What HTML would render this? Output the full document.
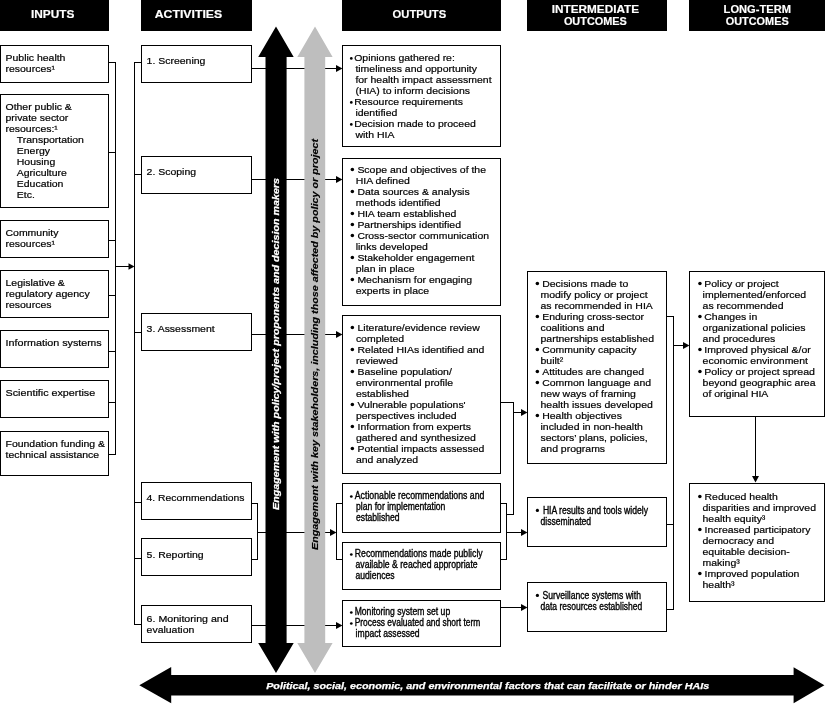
<!DOCTYPE html>
<html><head><meta charset="utf-8"><title>HIA logic model</title>
<style>
html,body{margin:0;padding:0;background:#fff;width:825px;height:704px;overflow:hidden}
svg{display:block;will-change:transform}
text{font-family:"Liberation Sans",sans-serif}
.h{font-weight:bold;fill:#fff;stroke:#fff;stroke-width:0.15px}
.t{fill:#000;stroke:#000;stroke-width:0.2px}
.c{fill:#000;stroke:#000;stroke-width:0.35px}
.bi{font-weight:bold;font-style:italic}
</style></head><body>
<svg width="825" height="704" viewBox="0 0 825 704">
<g fill="#000" shape-rendering="crispEdges">
<rect x="0" y="0" width="109" height="31"/>
<rect x="141" y="0" width="111" height="31"/>
<rect x="342" y="0" width="159" height="31"/>
<rect x="527" y="0" width="140" height="31"/>
<rect x="689" y="0" width="136" height="31"/>
<rect x="0" y="45" width="109" height="1"/>
<rect x="0" y="82" width="109" height="1"/>
<rect x="0" y="45" width="1" height="38"/>
<rect x="108" y="45" width="1" height="38"/>
<rect x="0" y="94" width="109" height="1"/>
<rect x="0" y="207" width="109" height="1"/>
<rect x="0" y="94" width="1" height="114"/>
<rect x="108" y="94" width="1" height="114"/>
<rect x="0" y="220" width="109" height="1"/>
<rect x="0" y="257" width="109" height="1"/>
<rect x="0" y="220" width="1" height="38"/>
<rect x="108" y="220" width="1" height="38"/>
<rect x="0" y="270" width="109" height="1"/>
<rect x="0" y="317" width="109" height="1"/>
<rect x="0" y="270" width="1" height="48"/>
<rect x="108" y="270" width="1" height="48"/>
<rect x="0" y="330" width="109" height="1"/>
<rect x="0" y="367" width="109" height="1"/>
<rect x="0" y="330" width="1" height="38"/>
<rect x="108" y="330" width="1" height="38"/>
<rect x="0" y="380" width="109" height="1"/>
<rect x="0" y="417" width="109" height="1"/>
<rect x="0" y="380" width="1" height="38"/>
<rect x="108" y="380" width="1" height="38"/>
<rect x="0" y="431" width="109" height="1"/>
<rect x="0" y="475" width="109" height="1"/>
<rect x="0" y="431" width="1" height="45"/>
<rect x="108" y="431" width="1" height="45"/>
<rect x="108" y="62" width="8" height="1"/>
<rect x="108" y="152" width="8" height="1"/>
<rect x="108" y="240" width="8" height="1"/>
<rect x="108" y="295" width="8" height="1"/>
<rect x="108" y="351" width="8" height="1"/>
<rect x="108" y="402" width="8" height="1"/>
<rect x="108" y="454" width="8" height="1"/>
<rect x="115" y="62" width="1" height="393"/>
<rect x="115" y="266" width="14.5" height="1"/>
<rect x="141" y="45" width="111" height="1"/>
<rect x="141" y="82" width="111" height="1"/>
<rect x="141" y="45" width="1" height="38"/>
<rect x="251" y="45" width="1" height="38"/>
<rect x="141" y="156" width="111" height="1"/>
<rect x="141" y="193" width="111" height="1"/>
<rect x="141" y="156" width="1" height="38"/>
<rect x="251" y="156" width="1" height="38"/>
<rect x="141" y="313" width="111" height="1"/>
<rect x="141" y="350" width="111" height="1"/>
<rect x="141" y="313" width="1" height="38"/>
<rect x="251" y="313" width="1" height="38"/>
<rect x="141" y="482" width="111" height="1"/>
<rect x="141" y="519" width="111" height="1"/>
<rect x="141" y="482" width="1" height="38"/>
<rect x="251" y="482" width="1" height="38"/>
<rect x="141" y="538" width="111" height="1"/>
<rect x="141" y="575" width="111" height="1"/>
<rect x="141" y="538" width="1" height="38"/>
<rect x="251" y="538" width="1" height="38"/>
<rect x="141" y="605" width="111" height="1"/>
<rect x="141" y="642" width="111" height="1"/>
<rect x="141" y="605" width="1" height="38"/>
<rect x="251" y="605" width="1" height="38"/>
<rect x="134" y="62" width="1" height="563"/>
<rect x="134" y="62" width="8" height="1"/>
<rect x="134" y="174" width="8" height="1"/>
<rect x="134" y="332" width="8" height="1"/>
<rect x="134" y="502" width="8" height="1"/>
<rect x="134" y="558" width="8" height="1"/>
<rect x="134" y="624" width="8" height="1"/>
<rect x="251" y="68" width="86" height="1"/>
<rect x="251" y="179" width="86" height="1"/>
<rect x="251" y="334" width="86" height="1"/>
<rect x="251" y="625" width="86" height="1"/>
<rect x="251" y="503" width="7" height="1"/>
<rect x="251" y="559" width="7" height="1"/>
<rect x="257" y="503" width="1" height="57"/>
<rect x="257" y="532" width="74" height="1"/>
<rect x="336" y="503" width="1" height="57"/>
<rect x="336" y="503" width="7" height="1"/>
<rect x="336" y="559" width="7" height="1"/>
<rect x="342" y="45" width="159" height="1"/>
<rect x="342" y="146" width="159" height="1"/>
<rect x="342" y="45" width="1" height="102"/>
<rect x="500" y="45" width="1" height="102"/>
<rect x="342" y="158" width="159" height="1"/>
<rect x="342" y="305" width="159" height="1"/>
<rect x="342" y="158" width="1" height="148"/>
<rect x="500" y="158" width="1" height="148"/>
<rect x="342" y="315" width="159" height="1"/>
<rect x="342" y="473" width="159" height="1"/>
<rect x="342" y="315" width="1" height="159"/>
<rect x="500" y="315" width="1" height="159"/>
<rect x="342" y="483" width="159" height="1"/>
<rect x="342" y="532" width="159" height="1"/>
<rect x="342" y="483" width="1" height="50"/>
<rect x="500" y="483" width="1" height="50"/>
<rect x="342" y="542" width="159" height="1"/>
<rect x="342" y="589" width="159" height="1"/>
<rect x="342" y="542" width="1" height="48"/>
<rect x="500" y="542" width="1" height="48"/>
<rect x="342" y="600" width="159" height="1"/>
<rect x="342" y="646" width="159" height="1"/>
<rect x="342" y="600" width="1" height="47"/>
<rect x="500" y="600" width="1" height="47"/>
<rect x="500" y="402" width="14" height="1"/>
<rect x="513" y="402" width="1" height="113"/>
<rect x="506" y="514" width="8" height="1"/>
<rect x="513" y="412" width="9" height="1"/>
<rect x="500" y="503" width="7" height="1"/>
<rect x="500" y="559" width="7" height="1"/>
<rect x="506" y="503" width="1" height="57"/>
<rect x="506" y="532" width="16" height="1"/>
<rect x="500" y="607" width="22" height="1"/>
<rect x="527" y="271" width="140" height="1"/>
<rect x="527" y="463" width="140" height="1"/>
<rect x="527" y="271" width="1" height="193"/>
<rect x="666" y="271" width="1" height="193"/>
<rect x="527" y="497" width="140" height="1"/>
<rect x="527" y="546" width="140" height="1"/>
<rect x="527" y="497" width="1" height="50"/>
<rect x="666" y="497" width="1" height="50"/>
<rect x="527" y="582" width="140" height="1"/>
<rect x="527" y="631" width="140" height="1"/>
<rect x="527" y="582" width="1" height="50"/>
<rect x="666" y="582" width="1" height="50"/>
<rect x="666" y="316" width="8" height="1"/>
<rect x="666" y="524" width="8" height="1"/>
<rect x="666" y="609" width="8" height="1"/>
<rect x="673" y="316" width="1" height="294"/>
<rect x="673" y="345" width="11" height="1"/>
<rect x="689" y="271" width="136" height="1"/>
<rect x="689" y="416" width="136" height="1"/>
<rect x="689" y="271" width="1" height="146"/>
<rect x="824" y="271" width="1" height="146"/>
<rect x="689" y="483" width="136" height="1"/>
<rect x="689" y="601" width="136" height="1"/>
<rect x="689" y="483" width="1" height="119"/>
<rect x="824" y="483" width="1" height="119"/>
<rect x="755" y="416" width="1" height="61"/>
</g>
<g fill="#000">
<text class="h" x="30.90" y="18" font-size="10.0" textLength="43.50" lengthAdjust="spacingAndGlyphs" transform="translate(0,18) scale(1,1.0) translate(0,-18)">INPUTS</text>
<text class="h" x="154.70" y="18" font-size="10.0" textLength="67.50" lengthAdjust="spacingAndGlyphs" transform="translate(0,18) scale(1,1.0) translate(0,-18)">ACTIVITIES</text>
<text class="h" x="392.60" y="18" font-size="10.0" textLength="53.60" lengthAdjust="spacingAndGlyphs" transform="translate(0,18) scale(1,1.0) translate(0,-18)">OUTPUTS</text>
<text class="h" x="551.80" y="13.1" font-size="10.0" textLength="87.30" lengthAdjust="spacingAndGlyphs" transform="translate(0,13.1) scale(1,1.0) translate(0,-13.1)">INTERMEDIATE</text>
<text class="h" x="563.90" y="24.7" font-size="10.0" textLength="63.00" lengthAdjust="spacingAndGlyphs" transform="translate(0,24.7) scale(1,1.0) translate(0,-24.7)">OUTCOMES</text>
<text class="h" x="723.60" y="13.1" font-size="10.0" textLength="67.40" lengthAdjust="spacingAndGlyphs" transform="translate(0,13.1) scale(1,1.0) translate(0,-13.1)">LONG-TERM</text>
<text class="h" x="725.70" y="24.7" font-size="10.0" textLength="63.00" lengthAdjust="spacingAndGlyphs" transform="translate(0,24.7) scale(1,1.0) translate(0,-24.7)">OUTCOMES</text>
<polygon points="134.5,266.5 128.5,263.2 128.5,269.8"/>
<polygon points="342.5,68.5 336,65.0 336,72.0"/>
<polygon points="342.5,179.5 336,176.0 336,183.0"/>
<polygon points="342.5,334.5 336,331.0 336,338.0"/>
<polygon points="342.5,625.5 336,622.0 336,629.0"/>
<polygon points="336.5,532.5 330,529.0 330,536.0"/>
<polygon points="527.5,412.5 521,409.0 521,416.0"/>
<polygon points="527.5,532.5 521,529.0 521,536.0"/>
<polygon points="527.5,607.5 521,604.0 521,611.0"/>
<polygon points="689.5,345.5 683,342.0 683,349.0"/>
<polygon points="755.5,482.5 752.0,476 759.0,476"/>
</g>
<polygon fill="#000" points="276,26.4 293.7,57.1 286.6,57.1 286.6,642.9 293.7,642.9 276,673.1 258.2,642.9 265.5,642.9 265.5,57.1 258.2,57.1"/>
<polygon fill="#bebebe" points="315,26.4 332.6,57.1 325.2,57.1 325.2,642.9 332.6,642.9 315,673.1 297.3,642.9 304.4,642.9 304.4,57.1 297.3,57.1"/>
<polygon fill="#000" points="139.3,685.2 171.2,667 171.2,675 793.6,675 793.6,667.2 824.4,685.2 793.6,703.3 793.6,695.6 171.2,695.6 171.2,703.2"/>
<g>
<text class="t" x="5.50" y="61" font-size="9.5" textLength="59.95" lengthAdjust="spacingAndGlyphs">Public health</text>
<text class="t" x="5.50" y="72" font-size="9.5" textLength="49.45" lengthAdjust="spacingAndGlyphs">resources¹</text>
<text class="t" x="5.50" y="110" font-size="9.5" textLength="66.34" lengthAdjust="spacingAndGlyphs">Other public &amp;</text>
<text class="t" x="5.50" y="121" font-size="9.5" textLength="62.84" lengthAdjust="spacingAndGlyphs">private sector</text>
<text class="t" x="5.50" y="132" font-size="9.5" textLength="52.36" lengthAdjust="spacingAndGlyphs">resources:¹</text>
<text class="t" x="16.80" y="143" font-size="9.5" textLength="67.12" lengthAdjust="spacingAndGlyphs">Transportation</text>
<text class="t" x="16.80" y="154" font-size="9.5" textLength="33.17" lengthAdjust="spacingAndGlyphs">Energy</text>
<text class="t" x="16.80" y="165" font-size="9.5" textLength="38.41" lengthAdjust="spacingAndGlyphs">Housing</text>
<text class="t" x="16.80" y="176" font-size="9.5" textLength="50.04" lengthAdjust="spacingAndGlyphs">Agriculture</text>
<text class="t" x="16.80" y="187" font-size="9.5" textLength="46.56" lengthAdjust="spacingAndGlyphs">Education</text>
<text class="t" x="16.80" y="198" font-size="9.5" textLength="18.03" lengthAdjust="spacingAndGlyphs">Etc.</text>
<text class="t" x="5.50" y="236" font-size="9.5" textLength="52.94" lengthAdjust="spacingAndGlyphs">Community</text>
<text class="t" x="5.50" y="247" font-size="9.5" textLength="49.45" lengthAdjust="spacingAndGlyphs">resources¹</text>
<text class="t" x="5.50" y="286" font-size="9.5" textLength="59.36" lengthAdjust="spacingAndGlyphs">Legislative &amp;</text>
<text class="t" x="5.50" y="297" font-size="9.5" textLength="84.22" lengthAdjust="spacingAndGlyphs">regulatory agency</text>
<text class="t" x="5.50" y="308" font-size="9.5" textLength="45.97" lengthAdjust="spacingAndGlyphs">resources</text>
<text class="t" x="5.50" y="346" font-size="9.5" textLength="96.11" lengthAdjust="spacingAndGlyphs">Information systems</text>
<text class="t" x="5.50" y="396" font-size="9.5" textLength="89.64" lengthAdjust="spacingAndGlyphs">Scientific expertise</text>
<text class="t" x="5.50" y="447" font-size="9.5" textLength="99.53" lengthAdjust="spacingAndGlyphs">Foundation funding &amp;</text>
<text class="t" x="5.50" y="458" font-size="9.5" textLength="93.69" lengthAdjust="spacingAndGlyphs">technical assistance</text>
<text class="t" x="146.60" y="64" font-size="9.5" textLength="58.78" lengthAdjust="spacingAndGlyphs">1. Screening</text>
<text class="t" x="146.60" y="175" font-size="9.5" textLength="49.47" lengthAdjust="spacingAndGlyphs">2. Scoping</text>
<text class="t" x="146.60" y="332" font-size="9.5" textLength="68.08" lengthAdjust="spacingAndGlyphs">3. Assessment</text>
<text class="t" x="146.60" y="501" font-size="9.5" textLength="97.94" lengthAdjust="spacingAndGlyphs">4. Recommendations</text>
<text class="t" x="146.60" y="558" font-size="9.5" textLength="57.03" lengthAdjust="spacingAndGlyphs">5. Reporting</text>
<text class="t" x="146.60" y="622" font-size="9.5" textLength="82.03" lengthAdjust="spacingAndGlyphs">6. Monitoring and</text>
<text class="t" x="146.60" y="633" font-size="9.5" textLength="47.73" lengthAdjust="spacingAndGlyphs">evaluation</text>
<circle cx="351.3" cy="58.4" r="1.35"/>
<text class="t" x="354.20" y="61" font-size="9.5" textLength="100.68" lengthAdjust="spacingAndGlyphs">Opinions gathered re:</text>
<text class="t" x="355.40" y="72" font-size="9.5" textLength="121.63" lengthAdjust="spacingAndGlyphs">timeliness and opportunity</text>
<text class="t" x="355.40" y="83" font-size="9.5" textLength="136.16" lengthAdjust="spacingAndGlyphs">for health impact assessment</text>
<text class="t" x="355.40" y="94" font-size="9.5" textLength="114.62" lengthAdjust="spacingAndGlyphs">(HIA) to inform decisions</text>
<circle cx="351.3" cy="102.4" r="1.35"/>
<text class="t" x="354.20" y="105" font-size="9.5" textLength="108.81" lengthAdjust="spacingAndGlyphs">Resource requirements</text>
<text class="t" x="355.40" y="116" font-size="9.5" textLength="41.91" lengthAdjust="spacingAndGlyphs">identified</text>
<circle cx="351.3" cy="124.4" r="1.35"/>
<text class="t" x="354.20" y="127" font-size="9.5" textLength="121.63" lengthAdjust="spacingAndGlyphs">Decision made to proceed</text>
<text class="t" x="355.40" y="138" font-size="9.5" textLength="38.98" lengthAdjust="spacingAndGlyphs">with HIA</text>
<circle cx="352.35" cy="169.5" r="1.75"/>
<text class="t" x="357.40" y="173" font-size="9.5" textLength="128.63" lengthAdjust="spacingAndGlyphs">Scope and objectives of the</text>
<text class="t" x="355.70" y="184" font-size="9.5" textLength="54.13" lengthAdjust="spacingAndGlyphs">HIA defined</text>
<circle cx="352.35" cy="191.5" r="1.75"/>
<text class="t" x="357.40" y="195" font-size="9.5" textLength="112.30" lengthAdjust="spacingAndGlyphs">Data sources &amp; analysis</text>
<text class="t" x="355.70" y="206" font-size="9.5" textLength="84.97" lengthAdjust="spacingAndGlyphs">methods identified</text>
<circle cx="352.35" cy="213.5" r="1.75"/>
<text class="t" x="357.40" y="217" font-size="9.5" textLength="98.93" lengthAdjust="spacingAndGlyphs">HIA team established</text>
<circle cx="352.35" cy="224.5" r="1.75"/>
<text class="t" x="357.40" y="228" font-size="9.5" textLength="103.59" lengthAdjust="spacingAndGlyphs">Partnerships identified</text>
<circle cx="352.35" cy="235.5" r="1.75"/>
<text class="t" x="357.40" y="239" font-size="9.5" textLength="131.59" lengthAdjust="spacingAndGlyphs">Cross-sector communication</text>
<text class="t" x="355.70" y="250" font-size="9.5" textLength="72.17" lengthAdjust="spacingAndGlyphs">links developed</text>
<circle cx="352.35" cy="257.5" r="1.75"/>
<text class="t" x="357.40" y="261" font-size="9.5" textLength="116.99" lengthAdjust="spacingAndGlyphs">Stakeholder engagement</text>
<text class="t" x="355.70" y="272" font-size="9.5" textLength="58.79" lengthAdjust="spacingAndGlyphs">plan in place</text>
<circle cx="352.35" cy="279.5" r="1.75"/>
<text class="t" x="357.40" y="283" font-size="9.5" textLength="114.65" lengthAdjust="spacingAndGlyphs">Mechanism for engaging</text>
<text class="t" x="355.70" y="294" font-size="9.5" textLength="73.33" lengthAdjust="spacingAndGlyphs">experts in place</text>
<circle cx="352.35" cy="327.5" r="1.75"/>
<text class="t" x="357.50" y="331" font-size="9.5" textLength="122.21" lengthAdjust="spacingAndGlyphs">Literature/evidence review</text>
<text class="t" x="355.90" y="342" font-size="9.5" textLength="48.30" lengthAdjust="spacingAndGlyphs">completed</text>
<circle cx="352.35" cy="349.5" r="1.75"/>
<text class="t" x="357.50" y="353" font-size="9.5" textLength="126.87" lengthAdjust="spacingAndGlyphs">Related HIAs identified and</text>
<text class="t" x="355.90" y="364" font-size="9.5" textLength="41.90" lengthAdjust="spacingAndGlyphs">reviewed</text>
<circle cx="352.35" cy="371.5" r="1.75"/>
<text class="t" x="357.50" y="375" font-size="9.5" textLength="94.30" lengthAdjust="spacingAndGlyphs">Baseline population/</text>
<text class="t" x="355.90" y="386" font-size="9.5" textLength="97.18" lengthAdjust="spacingAndGlyphs">environmental profile</text>
<text class="t" x="355.90" y="397" font-size="9.5" textLength="52.96" lengthAdjust="spacingAndGlyphs">established</text>
<circle cx="352.35" cy="404.5" r="1.75"/>
<text class="t" x="357.50" y="408" font-size="9.5" textLength="108.13" lengthAdjust="spacingAndGlyphs">Vulnerable populations&#x27;</text>
<text class="t" x="355.90" y="419" font-size="9.5" textLength="100.68" lengthAdjust="spacingAndGlyphs">perspectives included</text>
<circle cx="352.35" cy="426.5" r="1.75"/>
<text class="t" x="357.50" y="430" font-size="9.5" textLength="113.46" lengthAdjust="spacingAndGlyphs">Information from experts</text>
<text class="t" x="355.90" y="441" font-size="9.5" textLength="119.90" lengthAdjust="spacingAndGlyphs">gathered and synthesized</text>
<circle cx="352.35" cy="448.5" r="1.75"/>
<text class="t" x="357.50" y="452" font-size="9.5" textLength="126.86" lengthAdjust="spacingAndGlyphs">Potential impacts assessed</text>
<text class="t" x="355.90" y="463" font-size="9.5" textLength="62.28" lengthAdjust="spacingAndGlyphs">and analyzed</text>
<circle cx="351.3" cy="496.5" r="1.35"/>
<text class="c" x="354.80" y="499" font-size="10" textLength="129.63" lengthAdjust="spacingAndGlyphs">Actionable recommendations and</text>
<text class="c" x="356.10" y="510" font-size="10" textLength="89.29" lengthAdjust="spacingAndGlyphs">plan for implementation</text>
<text class="c" x="356.10" y="521" font-size="10" textLength="43.46" lengthAdjust="spacingAndGlyphs">established</text>
<circle cx="351.3" cy="554.5" r="1.35"/>
<text class="c" x="354.80" y="557" font-size="10" textLength="127.85" lengthAdjust="spacingAndGlyphs">Recommendations made publicly</text>
<text class="c" x="355.50" y="568" font-size="10" textLength="122.11" lengthAdjust="spacingAndGlyphs">available &amp; reached appropriate</text>
<text class="c" x="355.50" y="579" font-size="10" textLength="39.16" lengthAdjust="spacingAndGlyphs">audiences</text>
<circle cx="351.3" cy="612.5" r="1.35"/>
<text class="c" x="354.70" y="615" font-size="10" textLength="95.49" lengthAdjust="spacingAndGlyphs">Monitoring system set up</text>
<circle cx="351.3" cy="623.5" r="1.35"/>
<text class="c" x="354.70" y="626" font-size="10" textLength="125.62" lengthAdjust="spacingAndGlyphs">Process evaluated and short term</text>
<text class="c" x="355.60" y="637" font-size="10" textLength="63.98" lengthAdjust="spacingAndGlyphs">impact assessed</text>
<circle cx="537.35" cy="283.5" r="1.75"/>
<text class="t" x="542.20" y="287" font-size="9.5" textLength="86.12" lengthAdjust="spacingAndGlyphs">Decisions made to</text>
<text class="t" x="540.50" y="298" font-size="9.5" textLength="107.06" lengthAdjust="spacingAndGlyphs">modify policy or project</text>
<text class="t" x="540.50" y="309" font-size="9.5" textLength="112.30" lengthAdjust="spacingAndGlyphs">as recommended in HIA</text>
<circle cx="537.35" cy="316.5" r="1.75"/>
<text class="t" x="542.20" y="320" font-size="9.5" textLength="101.83" lengthAdjust="spacingAndGlyphs">Enduring cross-sector</text>
<text class="t" x="540.50" y="331" font-size="9.5" textLength="64.02" lengthAdjust="spacingAndGlyphs">coalitions and</text>
<text class="t" x="540.50" y="342" font-size="9.5" textLength="113.49" lengthAdjust="spacingAndGlyphs">partnerships established</text>
<circle cx="537.35" cy="349.5" r="1.75"/>
<text class="t" x="542.20" y="353" font-size="9.5" textLength="94.25" lengthAdjust="spacingAndGlyphs">Community capacity</text>
<text class="t" x="540.50" y="364" font-size="9.5" textLength="22.69" lengthAdjust="spacingAndGlyphs">built²</text>
<circle cx="537.35" cy="371.5" r="1.75"/>
<text class="t" x="542.20" y="375" font-size="9.5" textLength="101.86" lengthAdjust="spacingAndGlyphs">Attitudes are changed</text>
<circle cx="537.35" cy="382.5" r="1.75"/>
<text class="t" x="542.20" y="386" font-size="9.5" textLength="108.84" lengthAdjust="spacingAndGlyphs">Common language and</text>
<text class="t" x="540.50" y="397" font-size="9.5" textLength="95.42" lengthAdjust="spacingAndGlyphs">new ways of framing</text>
<text class="t" x="540.50" y="408" font-size="9.5" textLength="112.33" lengthAdjust="spacingAndGlyphs">health issues developed</text>
<circle cx="537.35" cy="415.5" r="1.75"/>
<text class="t" x="542.20" y="419" font-size="9.5" textLength="79.73" lengthAdjust="spacingAndGlyphs">Health objectives</text>
<text class="t" x="540.50" y="430" font-size="9.5" textLength="102.44" lengthAdjust="spacingAndGlyphs">included in non-health</text>
<text class="t" x="540.50" y="441" font-size="9.5" textLength="107.26" lengthAdjust="spacingAndGlyphs">sectors’ plans, policies,</text>
<text class="t" x="540.50" y="452" font-size="9.5" textLength="64.60" lengthAdjust="spacingAndGlyphs">and programs</text>
<circle cx="537.4" cy="510.4" r="1.6"/>
<text class="c" x="542.90" y="514" font-size="10" textLength="105.04" lengthAdjust="spacingAndGlyphs">HIA results and tools widely</text>
<text class="c" x="540.50" y="525" font-size="10" textLength="50.61" lengthAdjust="spacingAndGlyphs">disseminated</text>
<circle cx="537.4" cy="595.4" r="1.6"/>
<text class="c" x="542.60" y="599" font-size="10" textLength="98.34" lengthAdjust="spacingAndGlyphs">Surveillance systems with</text>
<text class="c" x="540.50" y="610" font-size="10" textLength="101.74" lengthAdjust="spacingAndGlyphs">data resources established</text>
<circle cx="699.95" cy="283.5" r="1.75"/>
<text class="t" x="704.30" y="287" font-size="9.5" textLength="74.48" lengthAdjust="spacingAndGlyphs">Policy or project</text>
<text class="t" x="702.60" y="298" font-size="9.5" textLength="103.59" lengthAdjust="spacingAndGlyphs">implemented/enforced</text>
<text class="t" x="702.60" y="309" font-size="9.5" textLength="80.89" lengthAdjust="spacingAndGlyphs">as recommended</text>
<circle cx="699.95" cy="316.5" r="1.75"/>
<text class="t" x="704.30" y="320" font-size="9.5" textLength="52.96" lengthAdjust="spacingAndGlyphs">Changes in</text>
<text class="t" x="702.60" y="331" font-size="9.5" textLength="103.01" lengthAdjust="spacingAndGlyphs">organizational policies</text>
<text class="t" x="702.60" y="342" font-size="9.5" textLength="72.75" lengthAdjust="spacingAndGlyphs">and procedures</text>
<circle cx="699.95" cy="349.5" r="1.75"/>
<text class="t" x="704.30" y="353" font-size="9.5" textLength="106.48" lengthAdjust="spacingAndGlyphs">Improved physical &amp;/or</text>
<text class="t" x="702.60" y="364" font-size="9.5" textLength="105.33" lengthAdjust="spacingAndGlyphs">economic environment</text>
<circle cx="699.95" cy="371.5" r="1.75"/>
<text class="t" x="704.30" y="375" font-size="9.5" textLength="110.71" lengthAdjust="spacingAndGlyphs">Policy or project spread</text>
<text class="t" x="702.60" y="386" font-size="9.5" textLength="112.92" lengthAdjust="spacingAndGlyphs">beyond geographic area</text>
<text class="t" x="702.60" y="397" font-size="9.5" textLength="65.76" lengthAdjust="spacingAndGlyphs">of original HIA</text>
<circle cx="699.85" cy="496.5" r="1.75"/>
<text class="t" x="704.50" y="500" font-size="9.5" textLength="73.34" lengthAdjust="spacingAndGlyphs">Reduced health</text>
<text class="t" x="702.50" y="511" font-size="9.5" textLength="113.48" lengthAdjust="spacingAndGlyphs">disparities and improved</text>
<text class="t" x="702.50" y="522" font-size="9.5" textLength="62.86" lengthAdjust="spacingAndGlyphs">health equity³</text>
<circle cx="699.85" cy="529.5" r="1.75"/>
<text class="t" x="704.50" y="533" font-size="9.5" textLength="105.91" lengthAdjust="spacingAndGlyphs">Increased participatory</text>
<text class="t" x="702.50" y="544" font-size="9.5" textLength="71.58" lengthAdjust="spacingAndGlyphs">democracy and</text>
<text class="t" x="702.50" y="555" font-size="9.5" textLength="87.30" lengthAdjust="spacingAndGlyphs">equitable decision-</text>
<text class="t" x="702.50" y="566" font-size="9.5" textLength="37.24" lengthAdjust="spacingAndGlyphs">making³</text>
<circle cx="699.85" cy="573.5" r="1.75"/>
<text class="t" x="704.50" y="577" font-size="9.5" textLength="94.87" lengthAdjust="spacingAndGlyphs">Improved population</text>
<text class="t" x="702.50" y="588" font-size="9.5" textLength="32.01" lengthAdjust="spacingAndGlyphs">health³</text>
</g>
<text class="bi" fill="#fff" stroke="#fff" stroke-width="0.25" font-size="9" textLength="332" lengthAdjust="spacingAndGlyphs" transform="translate(279.1,510) rotate(-90)" x="0" y="0">Engagement with policy/project proponents and decision makers</text>
<text class="bi" fill="#000" stroke="#000" stroke-width="0.15" font-size="8.8" textLength="411" lengthAdjust="spacingAndGlyphs" transform="translate(318.2,550) rotate(-90)" x="0" y="0">Engagement with key stakeholders, including those affected by policy or project</text>
<text class="bi" fill="#fff" stroke="#fff" stroke-width="0.25" font-size="9.5" textLength="443" lengthAdjust="spacingAndGlyphs" x="266.2" y="688.8">Political, social, economic, and environmental factors that can facilitate or hinder HAIs</text>
</svg>
</body></html>
